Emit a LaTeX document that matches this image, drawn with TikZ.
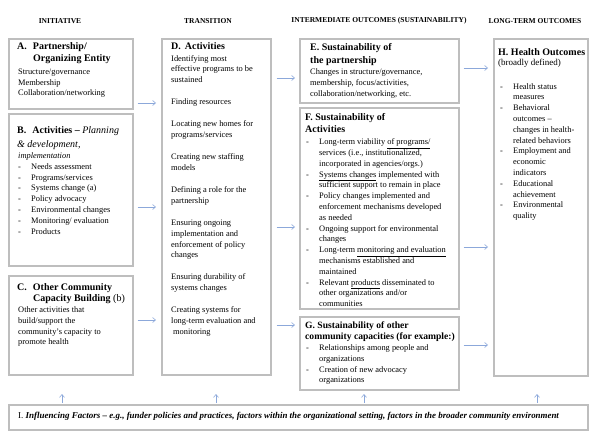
\documentclass[tikz,border=0pt]{standalone}
\usepackage{fontspec}
\setmainfont{Liberation Serif}
\usetikzlibrary{arrows.meta}
\definecolor{boxgray}{RGB}{190,190,190}
\definecolor{arrblue}{RGB}{140,168,218}
\newcommand{\dl}[1]{\makebox[13pt][l]{-}#1}
\newcommand{\cl}[1]{\hspace*{13pt}#1}
\tikzset{
  panel/.style={draw=boxgray,line width=1.6pt,inner sep=0pt,anchor=north west},
  body/.style={anchor=north west,inner sep=0pt,align=left,font=\fontsize{8.4}{10.8}\selectfont},
  ttl/.style={anchor=north west,inner sep=0pt,align=left,font=\fontsize{10}{12}\selectfont\bfseries},
  hdr/.style={inner sep=0pt,font=\fontsize{7.5}{8}\selectfont\bfseries},
  arr/.style={draw=arrblue,line width=0.6pt,-{Straight Barb[length=3pt,width=5pt]}}
}
\begin{document}
\begin{tikzpicture}[x=1pt,y=-1pt]
\useasboundingbox (0,0) rectangle (591,436);
% headers
\node[hdr] (h1) at (60,21) {INITIATIVE};
\node[hdr] (h2) at (208,21) {TRANSITION};
\node[hdr] (h3) at (379,21) {INTERMEDIATE OUTCOMES (SUSTAINABILITY)};
\node[hdr] (h4) at (535,21) {LONG-TERM OUTCOMES};
% panels
\node[panel,minimum width=124pt,minimum height=70pt] (A) at (8,38) {};
\node[panel,minimum width=124pt,minimum height=152pt] (B) at (8,113) {};
\node[panel,minimum width=124pt,minimum height=99pt] (C) at (8,275) {};
\node[panel,minimum width=109pt,minimum height=336pt] (D) at (161,38) {};
\node[panel,minimum width=159pt,minimum height=64pt] (E) at (299,38) {};
\node[panel,minimum width=159pt,minimum height=201pt] (F) at (299,107) {};
\node[panel,minimum width=159pt,minimum height=73pt] (G) at (299,316) {};
\node[panel,minimum width=94pt,minimum height=337pt] (H) at (493,38) {};
\node[panel,minimum width=579pt,minimum height=25pt] (I) at (8,404) {};
% A
\node[ttl] (At) at (17,42) {A.\hspace{6pt}Partnership/\\\hspace*{16pt}Organizing Entity};
\node[body] (Ab) at (18,68.5) {Structure/governance\\Membership\\Collaboration/networking};
% B
\node[ttl,font=\fontsize{10}{14}\selectfont\bfseries] (Bt) at (17,126) {B.\hspace{6pt}Activities \textendash{} \normalfont\itshape Planning\\\normalfont\itshape \& development,};
\node[body] (Bb) at (18,152.5) {\itshape implementation\\\dl{Needs assessment}\\\dl{Programs/services}\\\dl{Systems change (a)}\\\dl{Policy advocacy}\\\dl{Environmental changes}\\\dl{Monitoring/ evaluation}\\\dl{Products}};
% C
\node[ttl,font=\fontsize{10}{11.5}\selectfont\bfseries] (Ct) at (17,283) {C.\hspace{6pt}Other Community\\\hspace*{16pt}Capacity Building \normalfont(b)};
\node[body] (Cb) at (18,306.5) {Other activities that\\build/support the\\community's capacity to\\promote health};
% D
\node[ttl] (Dt) at (171,42) {D.\hspace{4pt}Activities};
\node[body,font=\fontsize{8.4}{10.7}\selectfont] (Db) at (171,55) {Identifying most\\effective programs to be\\sustained\\[11.5pt]Finding resources\\[11.5pt]Locating new homes for\\programs/services\\[11.5pt]Creating new staffing\\models\\[11.5pt]Defining a role for the\\partnership\\[11.5pt]Ensuring ongoing\\implementation and\\enforcement of policy\\changes\\[11.5pt]Ensuring durability of\\systems changes\\[11.5pt]Creating systems for\\long-term evaluation and\\\hspace*{2pt}monitoring};
% E
\node[ttl,font=\fontsize{10}{13}\selectfont\bfseries] (Et) at (310,43) {E. Sustainability of\\the partnership};
\node[body] (Eb) at (310,68.5) {Changes in structure/governance,\\membership, focus/activities,\\collaboration/networking, etc.};
% F
\node[ttl,font=\fontsize{10}{12.5}\selectfont\bfseries] (Ft) at (305,113) {F. Sustainability of\\Activities};
\node[body] (Fb) at (306,138.5) {\dl{Long-term viability \underline{of programs/}}\\\cl{services (i.e., institutionalized,}\\\cl{incorporated in agencies/orgs.)}\\\dl{\underline{Systems changes} implemented with}\\\cl{sufficient support to remain in place}\\\dl{Policy changes implemented and}\\\cl{enforcement mechanisms developed}\\\cl{as needed}\\\dl{Ongoing support for environmental}\\\cl{changes}\\\dl{Long-term \underline{monitoring and evaluation}}\\\cl{mechanisms established and}\\\cl{maintained}\\\dl{Relevant \underline{products} disseminated to}\\\cl{other organizations and/or}\\\cl{communities}};
% G
\node[ttl,font=\fontsize{9.6}{11}\selectfont\bfseries] (Gt) at (305,321.5) {G. Sustainability of other\\community capacities (for example:)};
\node[body] (Gb) at (306,344.5) {\dl{Relationships among people and}\\\cl{organizations}\\\dl{Creation of new advocacy}\\\cl{organizations}};
% H
\node[ttl] (Ht) at (498,48) {H. Health Outcomes};
\node[body,font=\fontsize{9}{11}\selectfont] (Hs) at (498,59) {(broadly defined)};
\node[body] (Hb) at (500,83) {\dl{Health status}\\\cl{measures}\\\dl{Behavioral}\\\cl{outcomes \textendash}\\\cl{changes in health-}\\\cl{related behaviors}\\\dl{Employment and}\\\cl{economic}\\\cl{indicators}\\\dl{Educational}\\\cl{achievement}\\\dl{Environmental}\\\cl{quality}};
% I
\node[anchor=west,inner sep=0pt] (It) at (18,416.5) {\fontsize{9}{11}\selectfont I. \itshape\bfseries Influencing Factors \textendash\ \fontsize{8.9}{10}\selectfont e.g., funder policies and practices, factors within the organizational setting, factors in the broader community environment};
% arrows
\draw[arr] ([xshift=4pt]A.east |- 0,103) -- ([xshift=-5pt]D.west |- 0,103);
\draw[arr] ([xshift=4pt]B.east |- 0,207) -- ([xshift=-5pt]D.west |- 0,207);
\draw[arr] ([xshift=4pt]C.east |- 0,320) -- ([xshift=-5pt]D.west |- 0,320);
\draw[arr] ([xshift=5pt]D.east |- 0,78) -- ([xshift=-4pt]E.west |- 0,78);
\draw[arr] ([xshift=5pt]D.east |- 0,227) -- ([xshift=-4pt]F.west |- 0,227);
\draw[arr] ([xshift=5pt]D.east |- 0,325) -- ([xshift=-4pt]G.west |- 0,325);
\draw[arr] ([xshift=4pt]E.east |- 0,68) -- ([xshift=-5pt]H.west |- 0,68);
\draw[arr] ([xshift=4pt]F.east |- 0,247) -- ([xshift=-5pt]H.west |- 0,247);
\draw[arr] ([xshift=4pt]G.east |- 0,345) -- ([xshift=-5pt]H.west |- 0,345);
\draw[arr] ([yshift=1.5pt]I.north -| 62,0) -- ([yshift=10pt]I.north -| 62,0);
\draw[arr] ([yshift=1.5pt]I.north -| 216,0) -- ([yshift=10pt]I.north -| 216,0);
\draw[arr] ([yshift=1.5pt]I.north -| 364,0) -- ([yshift=10pt]I.north -| 364,0);
\draw[arr] ([yshift=1.5pt]I.north -| 537,0) -- ([yshift=10pt]I.north -| 537,0);
\end{tikzpicture}
\end{document}
